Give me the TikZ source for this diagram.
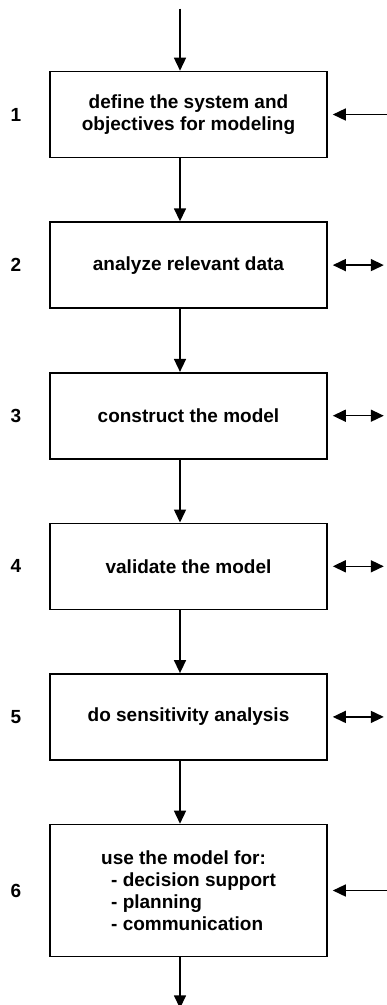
\documentclass[tikz,border=0pt]{standalone}
\usepackage{fontspec}
\setmainfont{Liberation Sans}
\usetikzlibrary{arrows.meta,positioning}

\begin{document}
\begin{tikzpicture}[>={Triangle[length=13pt,width=12pt]},line width=1.5pt,
  node distance=63pt,
  stepbox/.style={draw,line width=1.6pt,minimum width=277pt,minimum height=86pt,
    align=center,font=\fontsize{19}{22}\selectfont\bfseries},
  stepnum/.style={font=\fontsize{19}{22}\selectfont\bfseries}]

 \useasboundingbox (0pt,0pt) rectangle (386pt,-1005pt);

 % the six steps
 \node[stepbox] (b1) at (188.5pt,-114.5pt) {define the system and\\objectives for modeling};
 \node[stepbox] (b2) [below=of b1] {analyze relevant data};
 \node[stepbox] (b3) [below=of b2] {construct the model};
 \node[stepbox] (b4) [below=of b3] {validate the model};
 \node[stepbox] (b5) [below=of b4] {do sensitivity analysis};
 \node[stepbox,minimum height=132pt,align=left] (b6) [below=of b5]
   {use the model for:\\\hspace{10pt}- decision support\\\hspace{10pt}- planning\\\hspace{10pt}- communication};

 \foreach \i in {1,...,6}
   \node[stepnum,left=24pt of b\i] (n\i) {\i};

 % flow down the column
 \coordinate (in) at ([xshift=-8.5pt,yshift=62pt]b1.north);
 \coordinate (out) at ([xshift=-8.5pt,yshift=-51pt]b6.south);
 \draw[->] (in) -- ([xshift=-8.5pt]b1.north);
 \foreach \i/\j in {1/2,2/3,3/4,4/5,5/6}
   \draw[->] ([xshift=-8.5pt]b\i.south) -- ([xshift=-8.5pt]b\j.north);
 \draw[->] ([xshift=-8.5pt]b6.south) -- (out);

 % links on the right side
 \coordinate (r1) at ([xshift=60pt]b1.east);
 \coordinate (r6) at ([xshift=60pt]b6.east);
 \draw[->,shorten >=5pt] (r1) -- (b1);
 \draw[->,shorten >=5pt] (r6) -- (b6);
 \foreach \i in {2,...,5}{
   \coordinate (r\i) at ([xshift=56pt]b\i.east);
   \draw[<->,shorten <=5pt] (b\i.east) -- (r\i);
 }

\end{tikzpicture}
\end{document}
